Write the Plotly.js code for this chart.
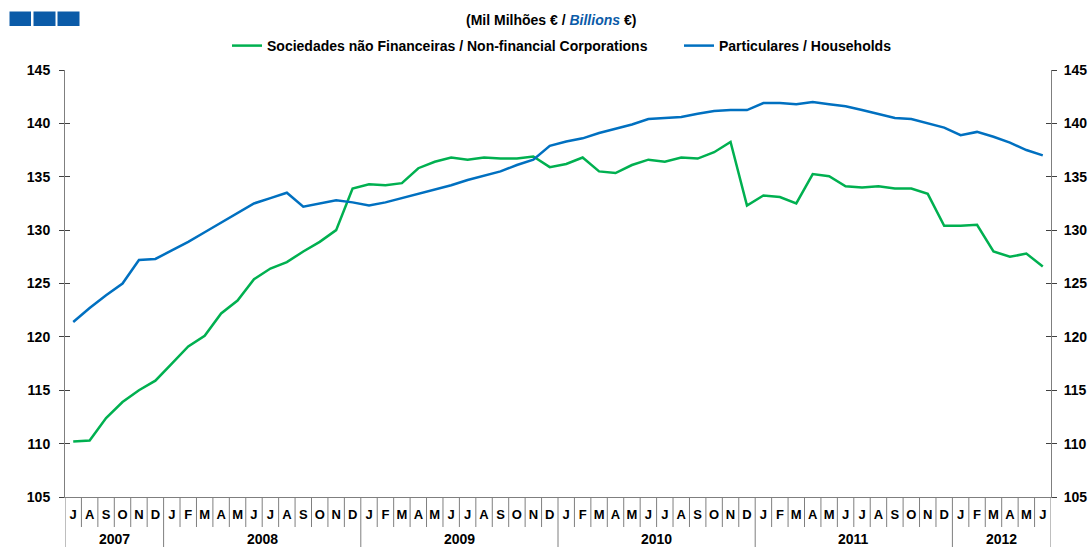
<!DOCTYPE html>
<html>
<head>
<meta charset="utf-8">
<script src="https://cdn.plot.ly/plotly-3.0.1.min.js"></script>
<style>html,body{margin:0;padding:0;background:#fff;}#chart{width:1091px;height:547px;}</style>
</head>
<body>
<div id="chart"></div>
<script>
// Jul 2007 .. Jun 2012 (monthly)
const monthLabels = ['J','A','S','O','N','D',
  'J','F','M','A','M','J','J','A','S','O','N','D',
  'J','F','M','A','M','J','J','A','S','O','N','D',
  'J','F','M','A','M','J','J','A','S','O','N','D',
  'J','F','M','A','M','J','J','A','S','O','N','D',
  'J','F','M','A','M','J'];
const yearLabels = ['2007','2008','2009','2010','2011','2012'];
const monthsPerYear = [6,12,12,12,12,6];

const nfcName = 'Sociedades não Financeiras / Non-financial Corporations';
const nfcValues = [110.2,110.3,112.4,113.9,115.0,115.9,
  117.5,119.1,120.1,122.2,123.4,125.4,126.4,127.0,128.0,128.9,130.0,133.9,
  134.3,134.2,134.4,135.8,136.4,136.8,136.6,136.8,136.7,136.7,136.9,135.9,
  136.2,136.8,135.5,135.35,136.1,136.6,136.4,136.8,136.7,137.3,138.25,132.3,
  133.25,133.1,132.5,135.25,135.05,134.1,134.0,134.1,133.9,133.9,133.4,130.4,
  130.4,130.5,128.0,127.5,127.8,126.6];

const hhName = 'Particulares / Households';
const hhValues = [121.4,122.7,123.9,125.0,127.2,127.3,
  128.1,128.9,129.8,130.7,131.6,132.5,133.0,133.5,132.2,132.5,132.8,132.6,
  132.3,132.6,133.0,133.4,133.8,134.2,134.7,135.1,135.5,136.1,136.6,137.9,
  138.3,138.6,139.1,139.5,139.9,140.4,140.5,140.6,140.9,141.15,141.25,141.25,
  141.9,141.9,141.8,142.0,141.8,141.6,141.25,140.85,140.5,140.4,140.0,139.6,
  138.9,139.2,138.75,138.2,137.5,137.0];

const yTicks = [105,110,115,120,125,130,135,140,145];

// ---- layout helpers (pixel -> paper) ----
const L = 65, R = 1051, T = 70, B = 497;
const W = R - L, H = B - T;
const px = p => (p - L) / W;
const py = p => (B - p) / H;

const idx = monthLabels.map((_, i) => i);
const FONT = 'Liberation Sans, Arial, sans-serif';

const traces = [
  {x: idx, y: nfcValues, name: nfcName, type: 'scatter', mode: 'lines',
   line: {color: '#00b050', width: 2.5}, legend: 'legend'},
  {x: idx, y: hhValues, name: hhName, type: 'scatter', mode: 'lines',
   line: {color: '#0070c0', width: 2.5}, legend: 'legend2'},
  // empty traces only to register the extra (frame) axes
  {x: [], y: [], yaxis: 'y2', type: 'scatter', mode: 'lines', showlegend: false},
  {x: [], y: [], yaxis: 'y3', type: 'scatter', mode: 'lines', showlegend: false},
  {x: [], y: [], yaxis: 'y4', type: 'scatter', mode: 'lines', showlegend: false}
];

// separators
const shapes = [];
const yearStarts = [];
let acc = 0;
yearStarts.push(-0.5);
monthsPerYear.forEach(n => { acc += n; yearStarts.push(acc - 0.5); });
for (let i = 1; i < monthLabels.length; i++) {
  const b = i - 0.5;
  const isYear = yearStarts.includes(b);
  shapes.push({type: 'line', xref: 'x', yref: 'paper', x0: b, x1: b,
    y0: 0, y1: isYear ? py(548) : py(527), line: {color: '#7f7f7f', width: 1}});
}
[-0.5, monthLabels.length - 0.5].forEach(b => {
  shapes.push({type: 'line', xref: 'x', yref: 'paper', x0: b, x1: b,
    y0: 0, y1: py(548), line: {color: '#7f7f7f', width: 1}});
});
// logo squares
[[9.5, 31], [33.5, 55.5], [57.5, 79.5]].forEach(([a, b]) => {
  shapes.push({type: 'rect', xref: 'paper', yref: 'paper', x0: px(a), x1: px(b),
    y0: py(26), y1: py(11.5), fillcolor: '#0b5ba8', line: {width: 0}});
});

// year annotations
const annotations = [];
let start = 0;
yearLabels.forEach((yl, k) => {
  const n = monthsPerYear[k];
  annotations.push({x: start + (n - 1) / 2, y: py(539), xref: 'x', yref: 'paper',
    text: yl, showarrow: false, font: {family: FONT, size: 14, color: '#000', weight: 'bold'},
    yanchor: 'middle'});
  start += n;
});
annotations.push({x: px(551), y: py(20), xref: 'paper', yref: 'paper', showarrow: false,
  yanchor: 'middle',
  text: '(Mil Milhões € / <i><span style="color:#0b5ba8">Billions</span></i> €)',
  font: {family: FONT, size: 14, color: '#000', weight: 'bold'}});

const yCommon = {range: [105, 145], tickvals: yTicks, showgrid: false, zeroline: false,
  linecolor: '#7f7f7f', linewidth: 1, showline: true, tickcolor: '#404040', ticklen: 5,
  tickfont: {family: FONT, size: 14, color: '#000', weight: 'bold'}, fixedrange: true};

const legFont = {family: FONT, size: 14, color: '#000', weight: 'bold'};

const layout = {
  width: 1091, height: 547,
  margin: {l: L, r: 1091 - R, t: T, b: 547 - B, pad: 0},
  paper_bgcolor: '#fff', plot_bgcolor: '#fff',
  showlegend: true,
  legend: {orientation: 'h', x: px(227), xanchor: 'left', y: py(46), yanchor: 'middle',
    font: legFont, itemwidth: 30, bgcolor: 'rgba(0,0,0,0)'},
  legend2: {orientation: 'h', x: px(679), xanchor: 'left', y: py(46), yanchor: 'middle',
    font: legFont, itemwidth: 30, bgcolor: 'rgba(0,0,0,0)'},
  xaxis: {range: [-0.5, monthLabels.length - 0.5], tickvals: idx, ticktext: monthLabels,
    ticks: '', showgrid: false, zeroline: false, showline: true, linecolor: '#7f7f7f',
    tickfont: {family: FONT, size: 13, color: '#000', weight: 'bold'},
    ticklabelstandoff: 5, fixedrange: true},
  yaxis: Object.assign({}, yCommon, {side: 'left', ticks: 'outside', ticklabelstandoff: 6}),
  yaxis2: Object.assign({}, yCommon, {side: 'right', overlaying: 'y', anchor: 'x',
    ticks: 'outside', ticklabelstandoff: 4, matches: 'y'}),
  yaxis3: Object.assign({}, yCommon, {side: 'left', overlaying: 'y', anchor: 'x',
    ticks: 'inside', showticklabels: false, matches: 'y'}),
  yaxis4: Object.assign({}, yCommon, {side: 'right', overlaying: 'y', anchor: 'x',
    ticks: 'inside', showticklabels: false, matches: 'y'}),
  shapes: shapes,
  annotations: annotations,
  hovermode: false
};

Plotly.newPlot('chart', traces, layout, {displayModeBar: false, staticPlot: true});
</script>
</body>
</html>
